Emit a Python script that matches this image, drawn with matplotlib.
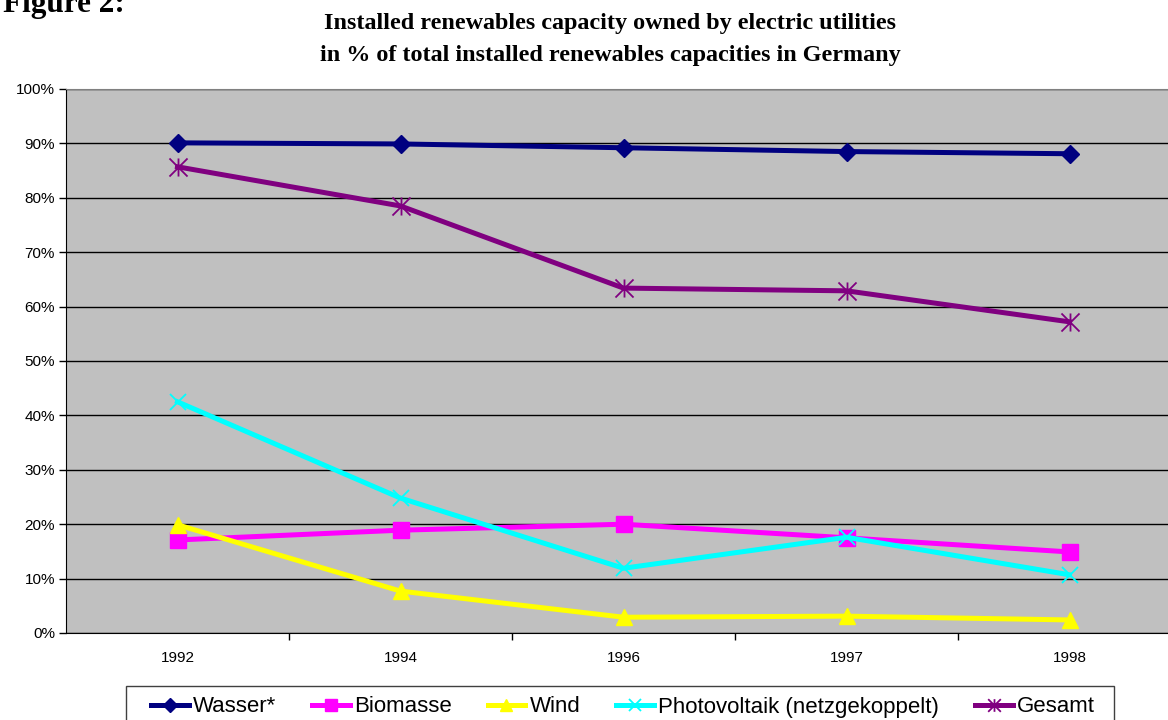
import matplotlib
matplotlib.use('agg')
import matplotlib.pyplot as plt
from matplotlib.path import Path
from matplotlib.patches import Rectangle
from matplotlib.ticker import FixedLocator, FuncFormatter
import numpy as np

# share of installed renewables capacity owned by electric utilities (%)
years = ['1992', '1994', '1996', '1997', '1998']
wasser = [90.1, 89.9, 89.2, 88.5, 88.1]
biomasse = [17.1, 18.9, 20.0, 17.5, 14.9]
wind = [19.9, 7.7, 2.9, 3.1, 2.4]
photovoltaik = [42.5, 24.8, 11.9, 17.6, 10.7]
gesamt = [85.7, 78.5, 63.4, 62.9, 57.2]

# Excel-style star marker: an X with a vertical bar through it
star = Path([(-0.5, -0.5), (0.5, 0.5), (-0.5, 0.5), (0.5, -0.5), (0, -0.5), (0, 0.5)],
            [Path.MOVETO, Path.LINETO, Path.MOVETO, Path.LINETO, Path.MOVETO, Path.LINETO])

series = [
    ('Wasser*', wasser, '#000080', 'D', 9.5),
    ('Biomasse', biomasse, '#ff00ff', 's', 12),
    ('Wind', wind, '#ffff00', '^', 12),
    ('Photovoltaik (netzgekoppelt)', photovoltaik, '#00ffff', 'x', 12),
    ('Gesamt', gesamt, '#800080', star, 13),
]

W, H = 1168, 720
fig = plt.figure(figsize=(W / 100, H / 100), dpi=100)
ax = fig.add_axes([66 / W, 1 - 633 / H, 1115 / W, 544 / H])
ax.set_facecolor('#c0c0c0')

x = np.arange(len(years))
handles = []
for name, vals, col, mk, ms in series:
    ln, = ax.plot(x, vals, color=col, lw=3.6, marker=mk, ms=ms, mec=col, mfc=col,
                  mew=1.3 if mk == 'x' or mk is star else 1, label=name,
                  clip_on=False, zorder=3)
    handles.append(ln)

ax.set_xlim(-0.5, len(years) - 0.5)
ax.set_ylim(0, 100)
ax.yaxis.set_major_locator(FixedLocator(np.arange(0, 101, 10)))
ax.yaxis.set_major_formatter(FuncFormatter(lambda v, p: f'{v:.0f}%'))
ax.grid(axis='y', color='#000000', lw=1.0, zorder=1)
ax.set_axisbelow(True)

# category labels centred, tick marks on the boundaries
ax.set_xticks(x)
ax.set_xticklabels(years)
ax.tick_params(axis='x', length=0, pad=13)
ax.set_xticks(np.arange(0.5, len(years) - 0.5, 1), minor=True)
ax.tick_params(axis='x', which='minor', length=5, width=1, color='#000000', direction='out')
ax.tick_params(axis='y', length=5, width=1, direction='out', pad=3)
for lab in ax.get_xticklabels() + ax.get_yticklabels():
    lab.set_fontfamily('Liberation Sans')
    lab.set_fontsize(11)

ax.spines['top'].set_color('#808080')
ax.spines['right'].set_visible(False)
ax.spines['left'].set_color('#000000')
ax.spines['bottom'].set_color('#000000')

fig.text(610 / W, 1 - 24 / H, 'Installed renewables capacity owned by electric utilities',
         ha='center', va='center', fontfamily='Liberation Serif', fontweight='bold', fontsize=17.4)
fig.text(610 / W, 1 - 55 / H, 'in % of total installed renewables capacities in Germany',
         ha='center', va='center', fontfamily='Liberation Serif', fontweight='bold', fontsize=17.4)
fig.text(3 / W, 1 - 12 / H, 'Figure 2:', ha='left', va='baseline',
         fontfamily='Liberation Serif', fontweight='bold', fontsize=22.5)

# legend box runs off the bottom edge; entries laid out without their own frame
fig.patches.append(Rectangle((126 / W, -0.05), (1114 - 126) / W, 0.05 + (720 - 686) / H,
                             transform=fig.transFigure, facecolor='white',
                             edgecolor='#404040', lw=1.0, zorder=0))
leg = fig.legend(handles=handles, loc='center left', bbox_to_anchor=(151 / W, 1 - 707 / H),
                 ncol=5, frameon=False, prop={'family': 'Liberation Sans', 'size': 16},
                 handlelength=1.7, handletextpad=0.2, columnspacing=1.6, borderpad=0,
                 borderaxespad=0, markerscale=0.7)

fig.savefig('out.png', dpi=100)
